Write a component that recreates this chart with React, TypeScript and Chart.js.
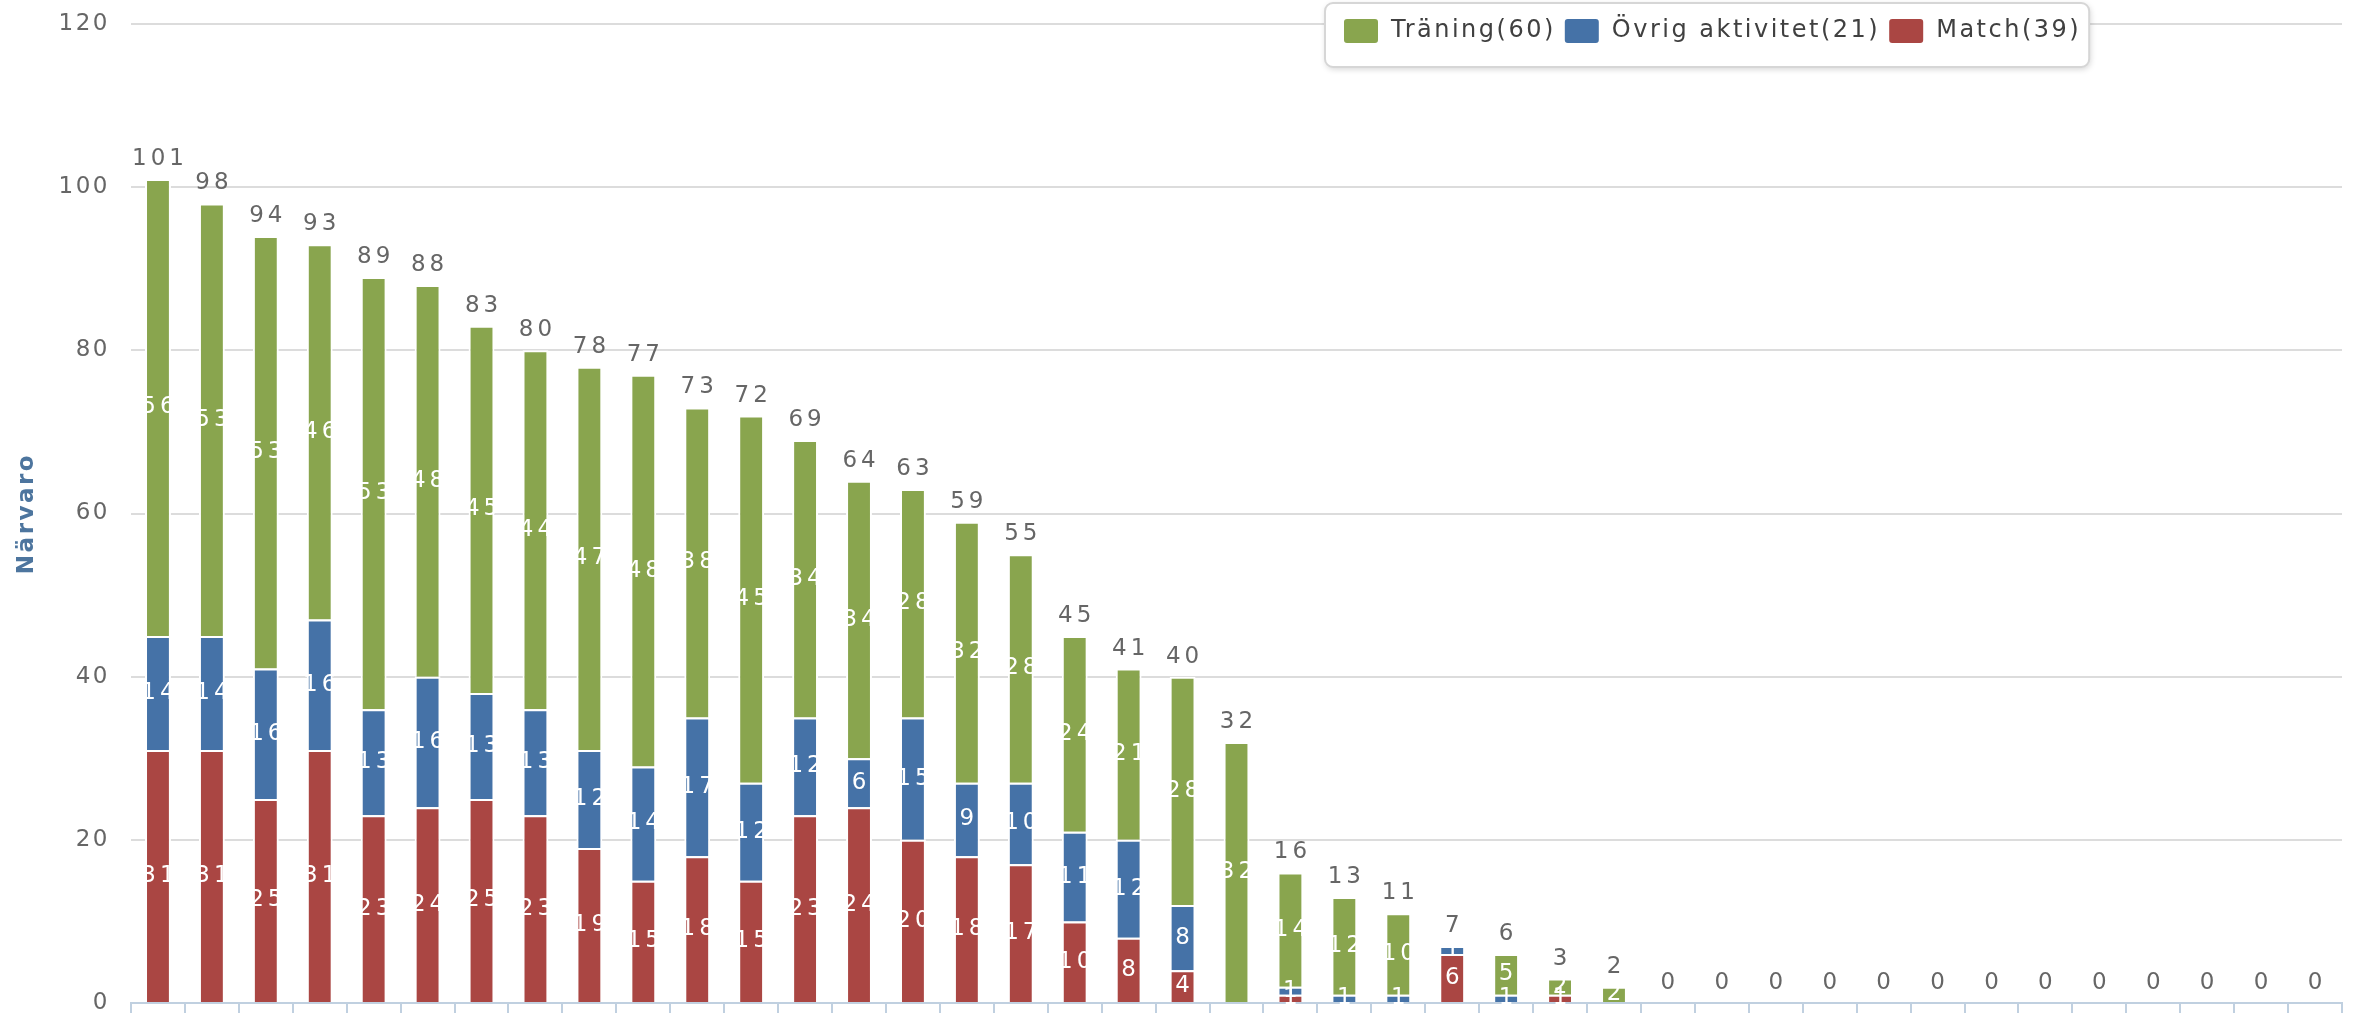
import React, { useEffect, useRef } from 'react';
import { Chart, registerables } from 'chart.js';

Chart.register(...registerables);

// ---- data ----
const categories = [
  '1', '2', '3', '4', '5', '6', '7', '8', '9', '10',
  '11', '12', '13', '14', '15', '16', '17', '18', '19', '20',
  '21', '22', '23', '24', '25', '26', '27', '28', '29', '30',
  '31', '32', '33', '34', '35', '36', '37', '38', '39', '40', '41',
];
const seriesNames = ['Träning(60)', 'Övrig aktivitet(21)', 'Match(39)'];
const traning = [
  56, 53, 53, 46, 53, 48, 45, 44, 47, 48,
  38, 45, 34, 34, 28, 32, 28, 24, 21, 28,
  32, 14, 12, 10, 0, 5, 2, 2, 0, 0,
  0, 0, 0, 0, 0, 0, 0, 0, 0, 0, 0,
];
const ovrig = [
  14, 14, 16, 16, 13, 16, 13, 13, 12, 14,
  17, 12, 12, 6, 15, 9, 10, 11, 12, 8,
  0, 1, 1, 1, 1, 1, 0, 0, 0, 0,
  0, 0, 0, 0, 0, 0, 0, 0, 0, 0, 0,
];
const match = [
  31, 31, 25, 31, 23, 24, 25, 23, 19, 15,
  18, 15, 23, 24, 20, 18, 17, 10, 8, 4,
  0, 1, 0, 0, 6, 0, 1, 0, 0, 0,
  0, 0, 0, 0, 0, 0, 0, 0, 0, 0, 0,
];
const yMin = 0;
const yMax = 120;
const yStep = 20;
const yTitle = 'Närvaro';

const COLORS = { traning: '#89A54E', ovrig: '#4572A7', match: '#AA4643' };
const FONT = '"DejaVu Sans", sans-serif';
const SPACING = '2.5px';
const LABEL_SPACING = '4px';

const spacingPlugin = {
  id: 'letterSpacing',
  beforeUpdate(chart: any) {
    chart.ctx.letterSpacing = SPACING;
  },
  beforeDraw(chart: any) {
    chart.ctx.letterSpacing = SPACING;
  },
};

const legendPlacePlugin = {
  id: 'legendPlace',
  afterLayout(chart: any) {
    const lg = chart.legend;
    if (!lg) return;
    lg.left = 1335;
    lg.right = chart.width;
    lg.top = 10;
    lg.bottom = 70;
    lg.width = lg.right - lg.left;
    lg.height = lg.bottom - lg.top;
  },
  afterDraw(chart: any) {
    const lg = chart.legend;
    if (!lg || !lg.legendHitBoxes || !lg.legendHitBoxes.length) return;
    const hb = lg.legendHitBoxes;
    const last = hb[hb.length - 1];
    const l = hb[0].left - 18;
    const r = last.left + last.width + 8;
    const t = 3;
    const b = 67;
    const ctx = chart.ctx;
    ctx.save();
    ctx.shadowColor = 'rgba(0,0,0,0.18)';
    ctx.shadowBlur = 6;
    ctx.shadowOffsetX = 1;
    ctx.shadowOffsetY = 2;
    ctx.beginPath();
    ctx.roundRect(l, t, r - l, b - t, 8);
    ctx.fillStyle = '#ffffff';
    ctx.fill();
    ctx.shadowColor = 'transparent';
    ctx.lineWidth = 2;
    ctx.strokeStyle = '#d6d6d6';
    ctx.stroke();
    ctx.restore();
    ctx.letterSpacing = SPACING;
    lg.draw();
  },
};

const stackLabelPlugin = {
  id: 'stackLabels',
  afterDatasetsDraw(chart: any) {
    const ctx = chart.ctx;
    const yScale = chart.scales.y;
    ctx.save();
    ctx.letterSpacing = LABEL_SPACING;
    ctx.font = `23px ${FONT}`;
    ctx.textAlign = 'center';
    ctx.textBaseline = 'middle';
    ctx.fillStyle = '#ffffff';
    chart.data.datasets.forEach((ds: any, di: number) => {
      const meta = chart.getDatasetMeta(di);
      meta.data.forEach((el: any, i: number) => {
        const v = ds.data[i];
        if (!v) return;
        const c = el.getCenterPoint();
        ctx.fillText(String(v), c.x + 2, c.y);
      });
    });
    ctx.fillStyle = '#666666';
    ctx.textBaseline = 'alphabetic';
    const meta0 = chart.getDatasetMeta(0);
    categories.forEach((_, i) => {
      const total = chart.data.datasets.reduce((s: number, ds: any) => s + (ds.data[i] as number), 0);
      const x = meta0.data[i].x;
      const py = yScale.getPixelForValue(total) - 14;
      ctx.fillText(String(total), x + 2, py);
    });
    ctx.restore();
  },
};

export default function App() {
  const ref = useRef<HTMLCanvasElement>(null);

  useEffect(() => {
    document.body.style.margin = '0';
    document.body.style.overflow = 'hidden';
    Chart.defaults.font.family = FONT;
    const canvas = ref.current;
    if (!canvas) return;
    const barOpts = {
      borderColor: '#ffffff',
      borderWidth: 2,
      barPercentage: 0.48,
      categoryPercentage: 1,
    };
    const chart = new Chart(canvas, {
      type: 'bar',
      data: {
        labels: categories,
        datasets: [
          { label: seriesNames[2], data: match, backgroundColor: COLORS.match, ...barOpts },
          { label: seriesNames[1], data: ovrig, backgroundColor: COLORS.ovrig, ...barOpts },
          { label: seriesNames[0], data: traning, backgroundColor: COLORS.traning, ...barOpts },
        ],
      },
      options: {
        animation: false,
        responsive: false,
        devicePixelRatio: 1,
        events: [],
        layout: { padding: { top: 23, right: 14, left: 0, bottom: 0 } },
        plugins: {
          tooltip: { enabled: false },
          legend: {
            display: true,
            position: 'top',
            align: 'start',
            reverse: true,
            maxHeight: 1,
            labels: {
              boxWidth: 36,
              boxHeight: 26,
              padding: 8,
              color: '#404040',
              font: { size: 24, family: FONT },
              useBorderRadius: true,
              borderRadius: 4,
            },
          },
        },
        scales: {
          x: {
            stacked: true,
            ticks: { display: false },
            grid: {
              display: true,
              drawOnChartArea: false,
              drawTicks: true,
              tickLength: 10,
              color: '#c0d0e0',
              lineWidth: 2,
              offset: true,
            },
            border: { display: true, color: '#c0d0e0', width: 2 },
            afterFit: (s: any) => {
              s.height = 21;
            },
          },
          y: {
            stacked: true,
            min: yMin,
            max: yMax,
            ticks: {
              stepSize: yStep,
              padding: 0,
              color: '#666666',
              font: { size: 23, family: FONT },
            },
            grid: {
              color: '#dcdcdc',
              lineWidth: 2,
              drawTicks: true,
              tickLength: 21,
              tickColor: 'rgba(0,0,0,0)',
            },
            border: { display: false },
            title: {
              display: true,
              text: yTitle,
              color: '#4d759e',
              font: { size: 23, weight: 'bold', family: FONT },
              padding: { top: 13, bottom: 0 },
            },
            afterFit: (s: any) => {
              s.width = 131;
            },
          },
        },
      } as any,
      plugins: [spacingPlugin, legendPlacePlugin, stackLabelPlugin],
    });
    return () => chart.destroy();
  }, []);

  return (
    <div style={{ width: 2356, height: 1024, background: '#ffffff' }}>
      <canvas ref={ref} width={2356} height={1024} style={{ display: 'block' }} />
    </div>
  );
}
